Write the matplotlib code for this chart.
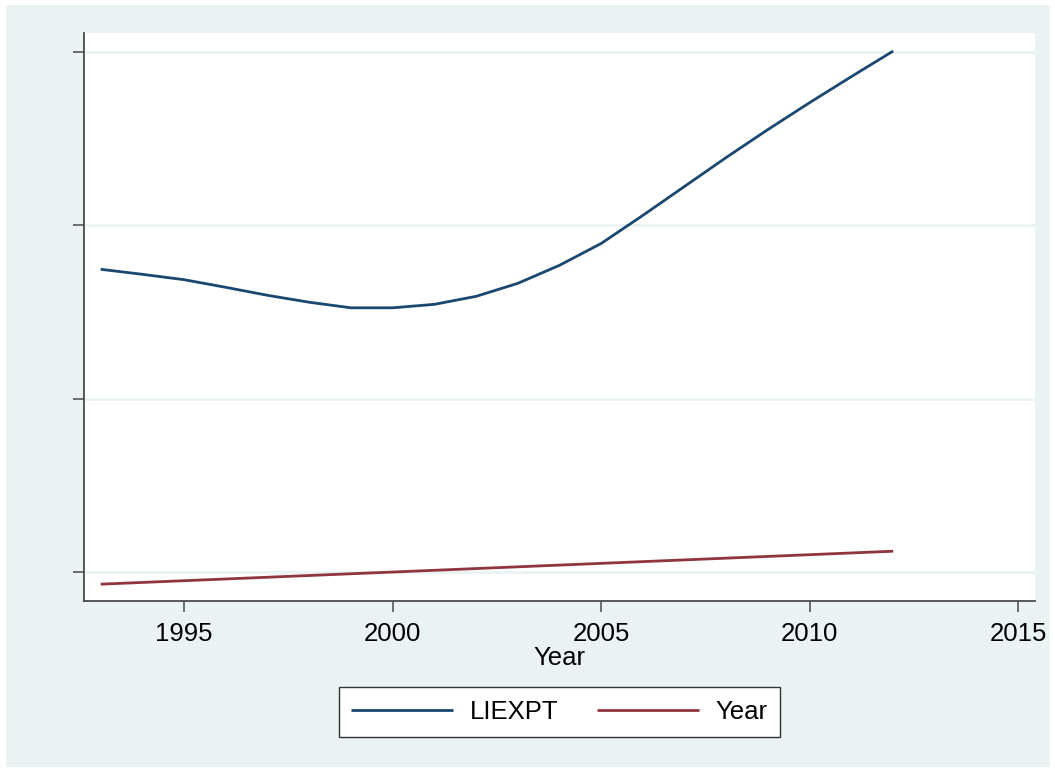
import matplotlib
matplotlib.use("Agg")
import matplotlib.pyplot as plt
from matplotlib.patches import Rectangle

plt.rcParams['font.family'] = ['Liberation Sans', 'DejaVu Sans']

years = [1993, 1994, 1995, 1996, 1997, 1998, 1999, 2000, 2001, 2002,
         2003, 2004, 2005, 2006, 2007, 2008, 2009, 2010, 2011, 2012]
liexpt = [2174.5, 2171.6, 2168.5, 2164.1, 2159.5, 2155.5, 2152.3, 2152.3,
          2154.3, 2158.9, 2166.4, 2176.8, 2189.4, 2205.6, 2222.3, 2239.0,
          2255.1, 2270.6, 2285.6, 2300.3]
year_series = years[:]

x_ticks = [1995, 2000, 2005, 2010, 2015]
y_ticks = [2000, 2100, 2200, 2300]

navy = '#1a476f'
maroon = '#90353b'
bg = '#eaf2f3'
axis_col = '#4a4a4a'

fig = plt.figure(figsize=(10.55, 7.71), dpi=100, facecolor='white')
fig.patches.append(Rectangle((6 / 1055, 1 - 767 / 771), (1050 - 6) / 1055, (767 - 5) / 771,
                             transform=fig.transFigure, facecolor=bg,
                             edgecolor='none', zorder=-10))

ax = fig.add_axes([84 / 1055, 1 - 601 / 771, (1035 - 84) / 1055, (601 - 33) / 771])
ax.set_facecolor('white')

ax.plot(years, liexpt, color=navy, lw=2.0, label='LIEXPT', solid_capstyle='butt')
ax.plot(years, year_series, color=maroon, lw=2.0, label='Year', solid_capstyle='butt')

ax.set_xlim(1992.6, 2015.4)
ax.set_ylim(1983.3, 2310.7)
ax.set_xticks(x_ticks)
ax.set_yticks(y_ticks)
ax.set_yticklabels([])
ax.yaxis.grid(True, color=bg, lw=2.0)
ax.set_axisbelow(True)

for side in ('top', 'right'):
    ax.spines[side].set_visible(False)
for side in ('left', 'bottom'):
    ax.spines[side].set_color(axis_col)
    ax.spines[side].set_linewidth(1.3)

ax.tick_params(axis='both', direction='out', length=8, width=1.1, color=axis_col,
               labelsize=18.5, pad=7)
ax.set_xlabel('Year', fontsize=18.5, labelpad=0)

leg = ax.legend(loc='upper center', bbox_to_anchor=(0.5, -0.152), ncol=2,
                frameon=True, fancybox=False, framealpha=1, fontsize=18.5,
                handlelength=3.95, handletextpad=0.66, columnspacing=1.5,
                borderpad=0.5, borderaxespad=0)
leg.get_frame().set_edgecolor('#333333')
leg.get_frame().set_linewidth(1.0)
leg.get_frame().set_facecolor('white')

fig.savefig('out.png', dpi=100, facecolor=fig.get_facecolor())
